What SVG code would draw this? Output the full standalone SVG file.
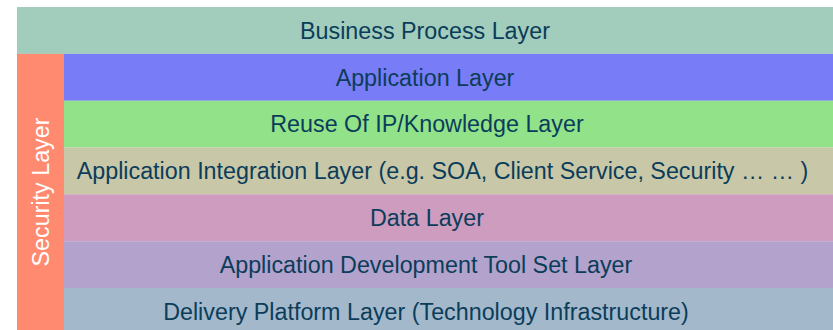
<svg xmlns="http://www.w3.org/2000/svg" width="833" height="330" viewBox="0 0 833 330">
<style>
text{font-family:"Liberation Sans",Arial,sans-serif;font-size:23.3px;fill:#0b3d5a;text-anchor:middle}
.w{fill:#ffffff}
</style>
<rect width="833" height="330" fill="#ffffff"/>
<g id="business"><rect x="17" y="7" width="816" height="46.9" fill="#a2ccbb"/><text x="425" y="38.6">Business Process Layer</text></g>
<g id="security"><rect x="17" y="53.9" width="47" height="276.1" fill="#ff8a70"/><text class="w" transform="translate(48.8,192) rotate(-90)">Security Layer</text></g>
<g id="application"><rect x="64" y="53.9" width="769" height="46.9" fill="#787cf7"/><text x="425" y="85.5">Application Layer</text></g>
<g id="reuse"><rect x="64" y="100.7" width="769" height="46.9" fill="#92e28a"/><text x="427" y="132.3">Reuse Of IP/Knowledge Layer</text></g>
<g id="integration"><rect x="64" y="147.5" width="769" height="46.9" fill="#c8c7a8"/><text x="442.5" y="179.1">Application Integration Layer (e.g. SOA, Client Service, Security … … )</text></g>
<g id="data"><rect x="64" y="194.3" width="769" height="46.9" fill="#cd9cbe"/><text x="427" y="225.9">Data Layer</text></g>
<g id="toolset"><rect x="64" y="241.2" width="769" height="46.9" fill="#b3a2cc"/><text x="426" y="272.8">Application Development Tool Set Layer</text></g>
<g id="delivery"><rect x="64" y="288" width="769" height="42" fill="#a3b8cb"/><text x="426" y="319.6">Delivery Platform Layer (Technology Infrastructure)</text></g>
<g id="connectors"/>
</svg>
